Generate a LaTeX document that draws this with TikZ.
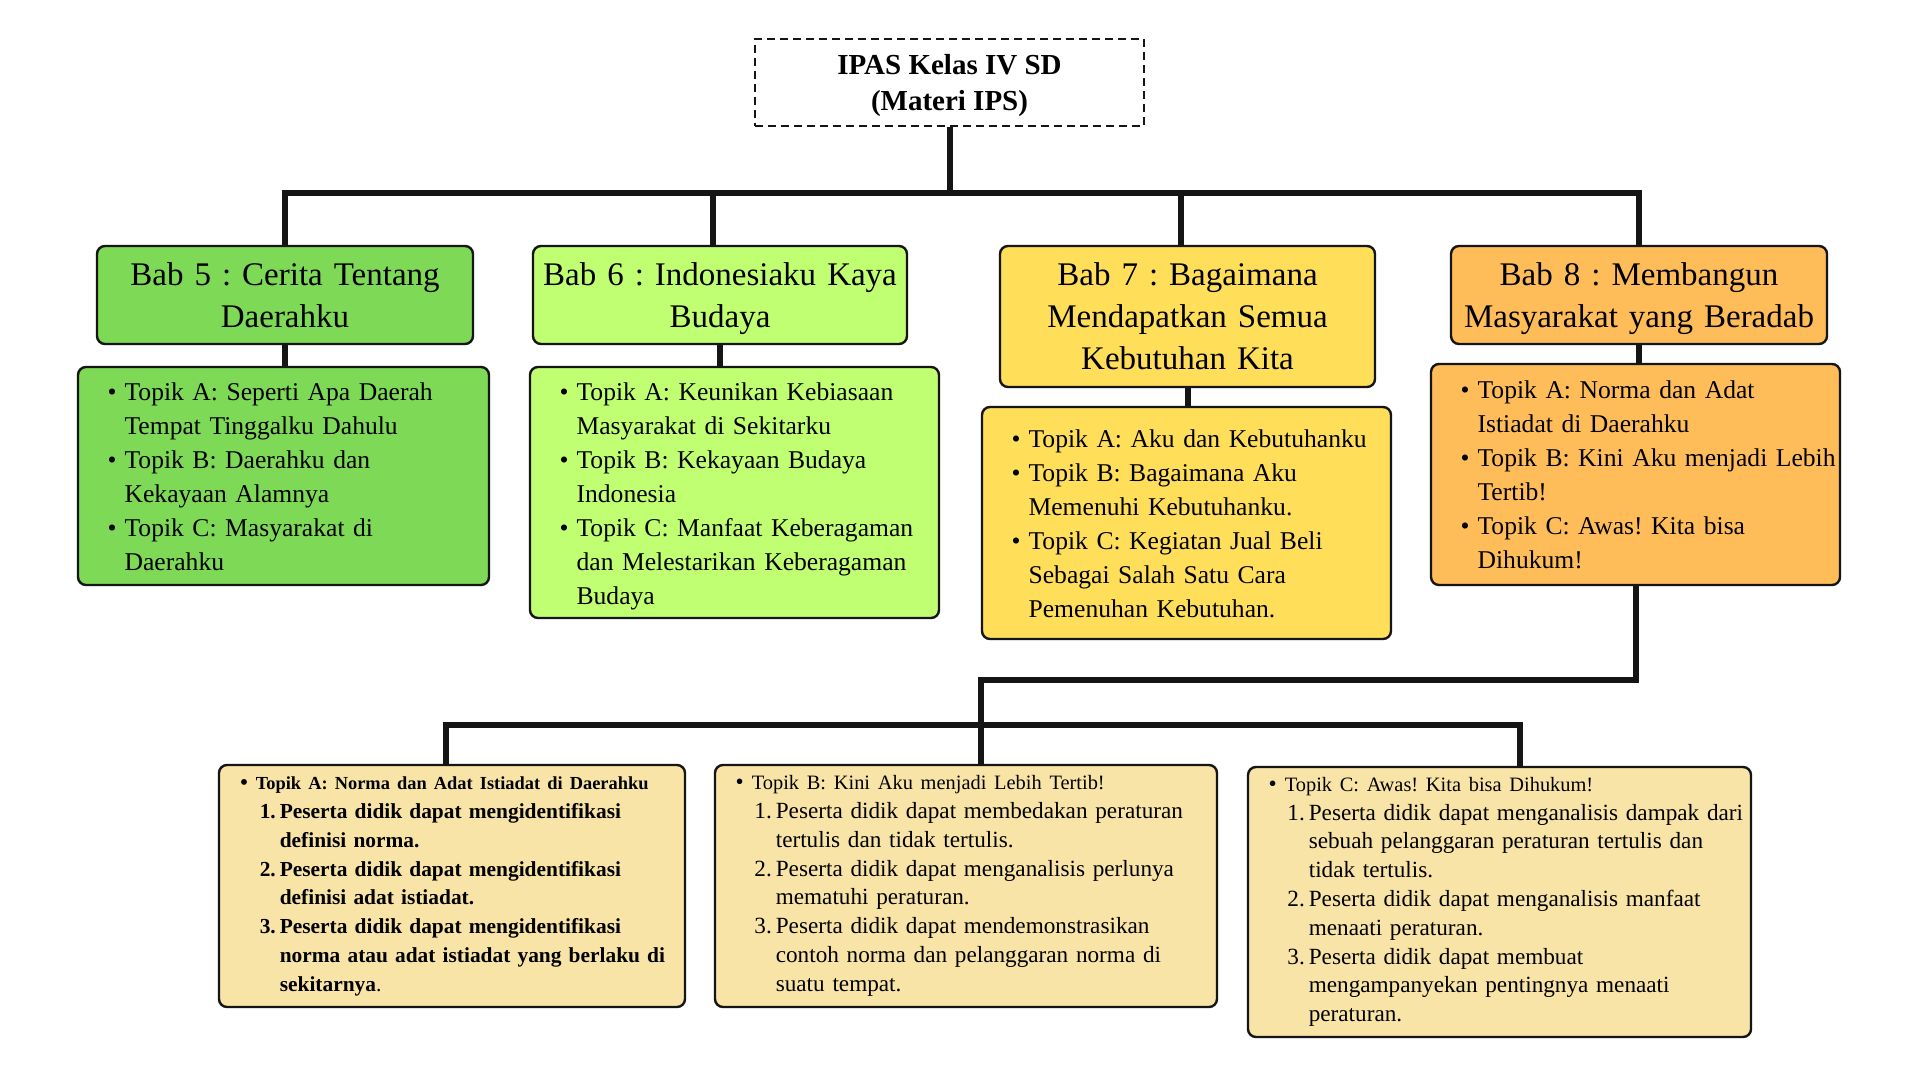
\documentclass[tikz,border=0pt]{standalone}
\usepackage{fontspec}
\setmainfont{Liberation Serif}
\usepackage{enumitem}
\frenchspacing
\newcommand{\Unit}{0.5pt}
\newcommand{\Edge}{1.2pt}
\newcommand{\Link}{3pt}
\definecolor{leaf}{HTML}{7ED957}
\definecolor{lime}{HTML}{C1FF72}
\definecolor{maize}{HTML}{FFDE59}
\definecolor{apricot}{HTML}{FFBD59}
\definecolor{parchment}{HTML}{F8E4A6}
\definecolor{ink}{HTML}{151515}
% Lines are broken by hand, so the lists may run a little past the text width.
% A list opening a node leaves a gap above it; the negative skip takes it back.
\SetEnumitemKey{topikbutir}{label=\textbullet, leftmargin=19.3pt, labelsep=4pt, rightmargin=-12pt, nosep, before=\vspace*{-7.5pt}}
\SetEnumitemKey{tujuanbutir}{label=\textbullet, leftmargin=15.4pt, labelsep=4pt, rightmargin=-12pt, nosep, before=\vspace*{-7.5pt}}
\SetEnumitemKey{tujuannomor}{label=\arabic*., leftmargin=12pt, labelsep=2pt, rightmargin=0pt, nosep}
\tikzset{
  judul/.style={draw=ink, line width=1pt, dash pattern=on 4pt off 2.5pt,
    align=center, font=\bfseries\fontsize{14.5pt}{18pt}\selectfont,
    minimum width=194.5pt, minimum height=43.5pt},
  bab/.style={draw=ink, line width=\Edge, rounded corners=4pt, fill=#1,
    align=center, font=\fontsize{16.5pt}{21pt}\selectfont,
    minimum width=188pt, text width=180pt},
  topik/.style={draw=ink, line width=\Edge, rounded corners=4pt, fill=#1,
    align=left, font=\fontsize{12.8pt}{17pt}\selectfont,
    minimum width=204.5pt, text width=196.5pt, inner xsep=4pt},
  tujuan/.style={draw=ink, line width=\Edge, rounded corners=4pt, fill=parchment,
    align=left, font=\fontsize{11.6pt}{14.4pt}\selectfont, inner xsep=3pt},
  garis/.style={draw=ink, line width=\Link}
}

\begin{document}
\begin{tikzpicture}[x=\Unit,y=-\Unit]

  % ---- page ---------------------------------------------------------------
  \fill[white] (0,0) rectangle (1920,1080);
  \useasboundingbox (0,0) rectangle (1920,1080);

  % ---- title --------------------------------------------------------------
  % Descenders on a last line would lift the text, so they are smashed.
  \node[judul] (judul) at (949.5,82.5) {IPAS Kelas IV SD\\\smash{(Materi IPS)}};

  % ---- the four chapters --------------------------------------------------
  \node[bab=leaf, minimum height=49pt] (bab5) at (285,295)
    {Bab 5 : Cerita Tentang\\Daerahku};
  \node[bab=lime, minimum height=49pt, minimum width=187pt] (bab6) at (720,295)
    {Bab 6 : Indonesiaku Kaya\\\smash{Budaya}};
  \node[bab=maize, minimum height=70.5pt, minimum width=187.5pt] (bab7) at (1187.5,316.5)
    {Bab 7 : Bagaimana\\Mendapatkan Semua\\Kebutuhan Kita};
  \node[bab=apricot, minimum height=49pt] (bab8) at (1639,295)
    {Bab 8 : Membangun\\\smash{Masyarakat yang Beradab}};

  % ---- topics under each chapter ------------------------------------------
  \node[topik=leaf, minimum width=205.5pt, text width=197.5pt, minimum height=109pt] (topik5) at (283.5,476) {%
    \begin{itemize}[topikbutir]
      \item Topik A: Seperti Apa Daerah\newline Tempat Tinggalku Dahulu
      \item Topik B: Daerahku dan\newline Kekayaan Alamnya
      \item Topik C: Masyarakat di\newline Daerahku
    \end{itemize}};
  \node[topik=lime, minimum height=125.5pt] (topik6) at (734.5,492.5) {%
    \begin{itemize}[topikbutir]
      \item Topik A: Keunikan Kebiasaan\newline Masyarakat di Sekitarku
      \item Topik B: Kekayaan Budaya\newline Indonesia
      \item Topik C: Manfaat Keberagaman\newline dan Melestarikan Keberagaman\newline \smash{Budaya}
    \end{itemize}};
  \node[topik=maize, minimum height=116pt] (topik7) at (1186.5,523) {%
    \begin{itemize}[topikbutir]
      \item Topik A: Aku dan Kebutuhanku
      \item Topik B: Bagaimana Aku\newline Memenuhi Kebutuhanku.
      \item Topik C: Kegiatan Jual Beli\newline Sebagai Salah Satu Cara\newline Pemenuhan Kebutuhan.
    \end{itemize}};
  \node[topik=apricot, minimum height=110.5pt] (topik8) at (1635.5,474.5) {%
    \begin{itemize}[topikbutir]
      \item Topik A: Norma dan Adat\newline Istiadat di Daerahku
      \item Topik B: Kini Aku menjadi Lebih\newline Tertib!
      \item Topik C: Awas! Kita bisa\newline Dihukum!
    \end{itemize}};

  % ---- learning goals of Bab 8 --------------------------------------------
  \node[tujuan, minimum width=233pt, text width=227pt, minimum height=121pt,
    font=\bfseries\fontsize{10.7pt}{14.4pt}\selectfont] (tujuanA) at (452,886) {%
    \begin{itemize}[tujuanbutir]
      \item {\fontsize{9.2pt}{14.4pt}\selectfont Topik A: Norma dan Adat Istiadat di Daerahku}
      \begin{enumerate}[tujuannomor]
        \item Peserta didik dapat mengidentifikasi\newline definisi norma.
        \item Peserta didik dapat mengidentifikasi\newline definisi adat istiadat.
        \item Peserta didik dapat mengidentifikasi\newline norma atau adat istiadat yang berlaku di\newline sekitarnya{\mdseries .}
      \end{enumerate}
    \end{itemize}};
  \node[tujuan, minimum width=251pt, text width=245pt, minimum height=121pt] (tujuanB) at (966,886) {%
    \begin{itemize}[tujuanbutir]
      \item {\fontsize{10.2pt}{14.4pt}\selectfont Topik B: Kini Aku menjadi Lebih Tertib!}
      \begin{enumerate}[tujuannomor]
        \item Peserta didik dapat membedakan peraturan\newline tertulis dan tidak tertulis.
        \item Peserta didik dapat menganalisis perlunya\newline mematuhi peraturan.
        \item Peserta didik dapat mendemonstrasikan\newline contoh norma dan pelanggaran norma di\newline suatu tempat.
      \end{enumerate}
    \end{itemize}};
  \node[tujuan, minimum width=251.5pt, text width=245.5pt, minimum height=135pt] (tujuanC) at (1499.5,902) {%
    \begin{itemize}[tujuanbutir]
      \item {\fontsize{10.2pt}{14.4pt}\selectfont Topik C: Awas! Kita bisa Dihukum!}
      \begin{enumerate}[tujuannomor]
        \item Peserta didik dapat menganalisis dampak dari\newline sebuah pelanggaran peraturan tertulis dan\newline tidak tertulis.
        \item Peserta didik dapat menganalisis manfaat\newline menaati peraturan.
        \item Peserta didik dapat membuat\newline mengampanyekan pentingnya menaati\newline peraturan.
      \end{enumerate}
    \end{itemize}};

  % ---- connectors ---------------------------------------------------------
  \coordinate (simpul) at (949.5,193.5);
  \draw[garis] (judul.south) -- (simpul);
  \draw[garis] (bab5.north) |- (simpul) -| (bab8.north);
  % The two middle drops sit a little left of their boxes' centres.
  \foreach \b in {bab6,bab7} {
    \draw[garis] ([xshift=-3.5pt]\b.north) -- ([xshift=-3.5pt]\b.north |- simpul);
  }
  \foreach \n in {5,...,8} {
    \draw[garis] (bab\n.south) -- (bab\n.south |- topik\n.north);
  }

  % Bab 8 carries on down to its three goal boxes.
  \coordinate (belok) at (981,680);
  \coordinate (simpulbawah) at (981,725);
  \draw[garis] (topik8.south) |- (belok) -- (belok |- tujuanB.north);
  \draw[garis] ([xshift=-3pt]tujuanA.north) |- (simpulbawah) -| ([xshift=10pt]tujuanC.north);

\end{tikzpicture}
\end{document}
